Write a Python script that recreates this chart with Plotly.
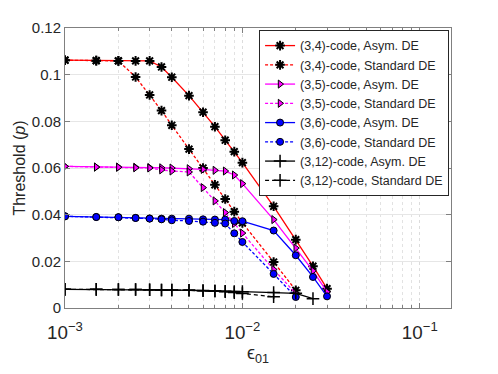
import plotly.graph_objects as go

# epsilon_01 values
x_asym = [1e-3, 1.5e-3, 2e-3, 2.5e-3, 3e-3, 3.5e-3, 4e-3, 5e-3, 6e-3, 7e-3, 8e-3, 9e-3, 1e-2,
          0.015, 0.02, 0.025, 0.03]
x_std = [1e-3, 1.5e-3, 2e-3, 2.5e-3, 3e-3, 3.5e-3, 4e-3, 5e-3, 6e-3, 7e-3, 8e-3, 9e-3, 1e-2,
         0.015, 0.02]
x_12_asym = [1e-3, 1.5e-3, 2e-3, 2.5e-3, 3e-3, 3.5e-3, 4e-3, 5e-3, 6e-3, 7e-3, 8e-3, 9e-3, 1e-2,
             0.015, 0.02, 0.025]

# thresholds
c34_asym = [0.1062, 0.1060, 0.1059, 0.1059, 0.1059, 0.1033, 0.0989, 0.0910, 0.0839, 0.0777,
            0.0719, 0.0670, 0.0623, 0.0436, 0.0293, 0.0179, 0.0083]
c34_std = [0.1062, 0.1060, 0.1059, 0.0990, 0.0913, 0.0846, 0.0783, 0.0681, 0.0600, 0.0528,
           0.0467, 0.0413, 0.0365, 0.0197, 0.0076]
c35_asym = [0.0607, 0.0604, 0.0604, 0.0603, 0.0602, 0.0601, 0.0600, 0.0597, 0.0594, 0.0590,
            0.0587, 0.0570, 0.0533, 0.0379, 0.0257, 0.0159, 0.0069]
c35_std = [0.0607, 0.0604, 0.0603, 0.0601, 0.0600, 0.0592, 0.0587, 0.0583, 0.0516, 0.0459,
           0.0409, 0.0362, 0.0321, 0.0165, 0.0062]
c36_asym = [0.0393, 0.0390, 0.0389, 0.0386, 0.0384, 0.0383, 0.0383, 0.0383, 0.0380, 0.0379,
            0.0379, 0.0373, 0.0372, 0.0332, 0.0226, 0.0133, 0.0050]
c36_std = [0.0393, 0.0390, 0.0389, 0.0386, 0.0383, 0.0380, 0.0376, 0.0373, 0.0370, 0.0365,
           0.0362, 0.0320, 0.0283, 0.0146, 0.0047]
c312_asym = [0.0080, 0.0080, 0.0079, 0.0079, 0.0078, 0.0077, 0.0077, 0.0076, 0.0075, 0.0074,
             0.0072, 0.0071, 0.0070, 0.0066, 0.0063, 0.0040]
c312_std = [0.0080, 0.0080, 0.0079, 0.0079, 0.0078, 0.0077, 0.0077, 0.0076, 0.0074, 0.0072,
            0.0070, 0.0066, 0.0062, 0.0048]

series = [
    ("(3,4)-code, Asym. DE", x_asym, c34_asym, "red", "solid", "asterisk-open"),
    ("(3,4)-code, Standard DE", x_std, c34_std, "red", "3px,2px", "asterisk-open"),
    ("(3,5)-code, Asym. DE", x_asym, c35_asym, "magenta", "solid", "triangle-right"),
    ("(3,5)-code, Standard DE", x_std, c35_std, "magenta", "3px,2px", "triangle-right"),
    ("(3,6)-code, Asym. DE", x_asym, c36_asym, "blue", "solid", "circle"),
    ("(3,6)-code, Standard DE", x_std, c36_std, "blue", "3px,2px", "circle"),
    ("(3,12)-code, Asym. DE", x_12_asym, c312_asym, "black", "solid", "cross-thin-open"),
    ("(3,12)-code, Standard DE", x_std[:14], c312_std, "black", "4px,3px", "cross-thin-open"),
]

fig = go.Figure()
for name, xs, ys, col, dash, sym in series:
    if sym == "asterisk-open":
        mk = dict(symbol=sym, size=8, color="black", line=dict(color="black", width=2))
    elif sym == "cross-thin-open":
        mk = dict(symbol=sym, size=9, color="black", line=dict(color="black", width=1.5))
    else:
        mk = dict(symbol=sym, size=7, color=col, line=dict(color="black", width=1))
    fig.add_trace(go.Scatter(
        x=xs, y=ys, name=name, mode="lines+markers",
        line=dict(color=col, width=1.3, dash=dash),
        marker=mk,
    ))

# page body adds an 8px offset, so margins are shifted to compensate
fig.update_layout(
    width=498, height=374,
    margin=dict(l=57, r=55, t=20, b=74),
    paper_bgcolor="white", plot_bgcolor="white",
    font=dict(family="Liberation Sans, Arial, sans-serif", size=14, color="#262626"),
    showlegend=True,
    legend=dict(
        x=0.995, y=0.993, xanchor="right", yanchor="top",
        bgcolor="white", bordercolor="#262626", borderwidth=1,
        font=dict(size=12.5, color="#262626"),
        tracegroupgap=0,
    ),
    xaxis=dict(
        type="log", range=[-3, -0.824], dtick=1, exponentformat="power",
        showgrid=True, gridcolor="#dcdcdc", griddash="dot", gridwidth=1,
        minor=dict(dtick="D1", showgrid=True, gridcolor="#e2e2e2", griddash="dot",
                   ticks="inside", ticklen=3, tickcolor="#808080"),
        ticks="inside", ticklen=5, tickcolor="#808080",
        showline=True, linecolor="#808080", mirror="ticks", linewidth=1,
        tickfont=dict(size=15), ticklabelstandoff=8,
        title=dict(text="ϵ<sub>01</sub>", font=dict(size=18), standoff=3),
        zeroline=False,
    ),
    yaxis=dict(
        range=[0, 0.12], dtick=0.02,
        showgrid=True, gridcolor="#e6e6e6", gridwidth=1,
        ticks="inside", ticklen=5, tickcolor="#808080",
        showline=True, linecolor="#808080", mirror="ticks", linewidth=1,
        tickfont=dict(size=15),
        title=dict(text="Threshold (<i>p</i>)", font=dict(size=16), standoff=2),
        zeroline=False,
    ),
)

fig.write_html("out.html")
